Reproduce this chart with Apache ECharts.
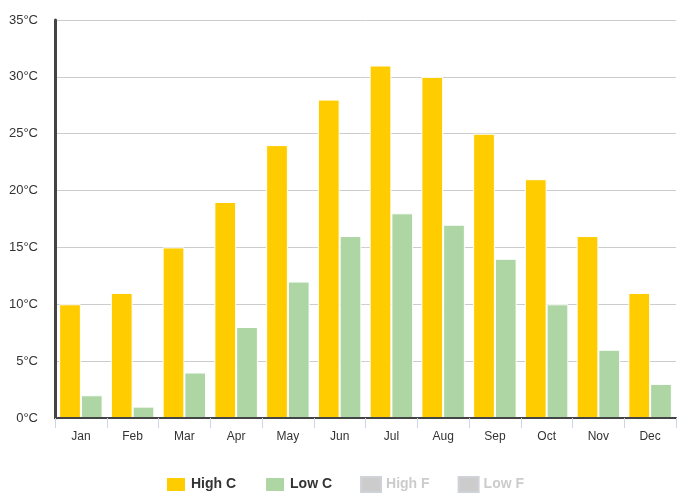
<!DOCTYPE html>
<html><head><meta charset="utf-8">
<script src="https://cdn.jsdelivr.net/npm/echarts@6/dist/echarts.min.js"></script>
<style>html,body{margin:0;padding:0;background:#fff}#c{width:689px;height:504px}</style>
</head><body><div id="c"></div>
<script>
var months = ['Jan','Feb','Mar','Apr','May','Jun','Jul','Aug','Sep','Oct','Nov','Dec'];
var highC = [10, 11, 15, 19, 24, 28, 31, 30, 25, 21, 16, 11];
var lowC = [2, 1, 4, 8, 12, 16, 18, 17, 14, 10, 6, 3];
var highF = [50, 52, 59, 66, 75, 82, 88, 86, 77, 70, 61, 52];
var lowF = [36, 34, 39, 46, 54, 61, 64, 63, 57, 50, 43, 37];
var chart = echarts.init(document.getElementById('c'));
var font = 'Liberation Sans, Arial, sans-serif';
function bar(name, data, color) {
  return { name: name, type: 'bar', data: data, barGap: '0%', barCategoryGap: '16%',
    itemStyle: { color: color, borderColor: '#fff', borderWidth: 1 } };
}
chart.setOption({
  animation: false,
  textStyle: { fontFamily: font },
  grid: { left: 55, right: 13, top: 20, bottom: 86 },
  legend: {
    bottom: 6, left: 'center', itemWidth: 20, itemHeight: 15, itemGap: 28,
    icon: 'rect',
    textStyle: { fontSize: 14, fontWeight: 'bold', color: '#333', fontFamily: font },
    inactiveColor: '#ccc',
    data: ['High C', 'Low C', 'High F', 'Low F'],
    selected: { 'High F': false, 'Low F': false }
  },
  xAxis: {
    type: 'category', data: months, z: 5,
    axisLine: { lineStyle: { color: '#444', width: 2 } },
    axisTick: { show: true, length: 10, lineStyle: { color: '#ccd6eb' } },
    axisLabel: { color: '#333', fontSize: 12, margin: 13, fontFamily: font }
  },
  yAxis: {
    type: 'value', min: 0, max: 35, interval: 5,
    axisLine: { show: true, lineStyle: { color: '#444', width: 3 } },
    axisTick: { show: false },
    splitLine: { lineStyle: { color: '#ccc' } },
    axisLabel: { color: '#333', fontSize: 13, margin: 17, formatter: '{value}°C', fontFamily: font }
  },
  series: [
    bar('High C', highC, '#ffcc00'),
    bar('Low C', lowC, '#aed6a5'),
    bar('High F', highF, '#ff9900'),
    bar('Low F', lowF, '#66aa66')
  ]
});
</script></body></html>
